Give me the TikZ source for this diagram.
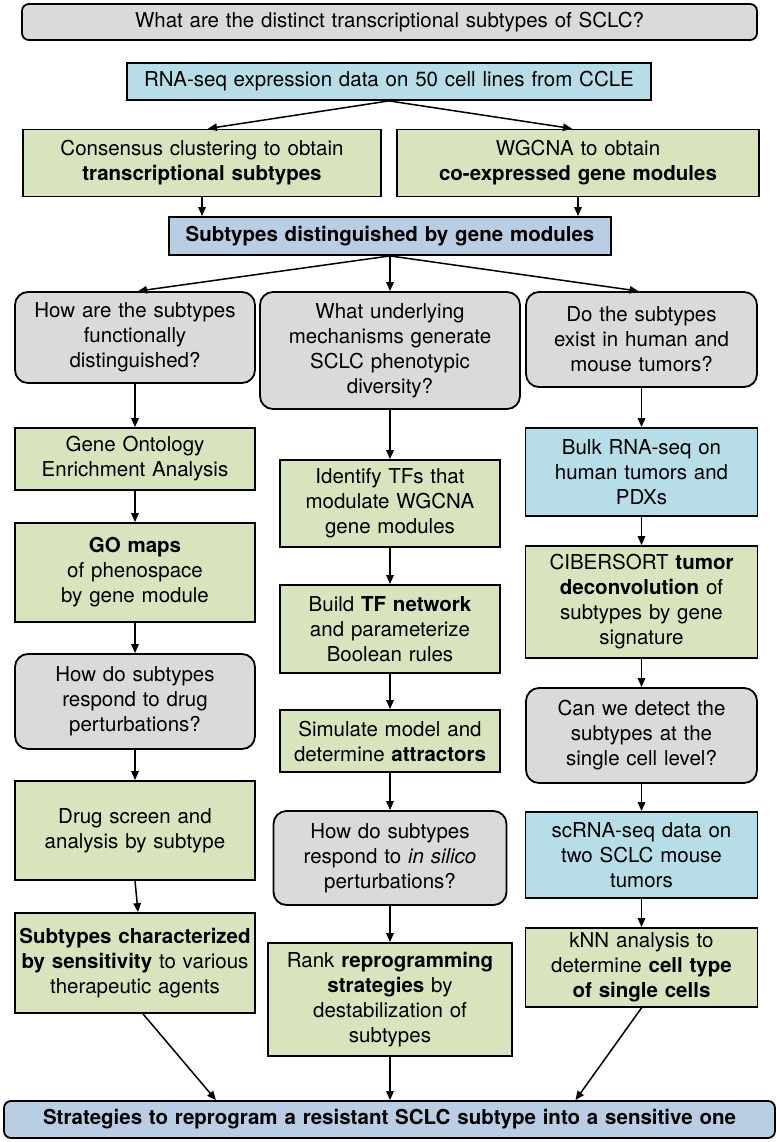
\documentclass[tikz,border=0pt]{standalone}
\usepackage{fontspec}
\setmainfont{TeX Gyre Heros}
\usetikzlibrary{arrows.meta}
\definecolor{qgray}{RGB}{218,218,218}
\definecolor{pgreen}{RGB}{215,228,189}
\definecolor{dblue}{RGB}{183,221,232}
\definecolor{sblue}{RGB}{185,205,229}
\begin{document}
\begin{tikzpicture}[x=1pt,y=-1pt,
  base/.style={draw=black, line width=1.8pt, inner sep=0pt, align=center,
    font=\fontsize{20.5}{25}\selectfont},
  wh/.style 2 args={text width=#1, minimum height=#2},
  qbox/.style={base, fill=qgray, rounded corners=13pt},
  gbox/.style={base, fill=pgreen},
  dbox/.style={base, fill=dblue},
  sbox/.style={base, fill=sblue},
  arr/.style={line width=1.5pt, -{Triangle[length=9pt,width=7.5pt]}},
]
\fill[white] (0,0) rectangle (779,1142);
\useasboundingbox (0,0) rectangle (779,1142);

% top
\node[qbox, rounded corners=7pt, wh={735pt}{36pt}] (title) at (389.5,22) {What are the distinct transcriptional subtypes of SCLC?};
\node[dbox, wh={524pt}{37pt}] (rna) at (389,81.5) {RNA-seq expression data on 50 cell lines from CCLE};
\node[gbox, wh={358pt}{67pt}] (cons) at (202,163) {Consensus clustering to obtain\\\textbf{transcriptional subtypes}};
\node[gbox, wh={362pt}{67pt}] (wgcna) at (578,163) {WGCNA to obtain\\\textbf{co-expressed gene modules}};
\node[sbox, wh={442pt}{38pt}] (subt) at (390,236) {\textbf{Subtypes distinguished by gene modules}};

% left column
\node[qbox, wh={240pt}{91pt}] (q1) at (135,337.5) {How are the subtypes\\functionally\\distinguished?};
\node[gbox, wh={240pt}{62pt}] (go1) at (135,459) {Gene Ontology\\Enrichment Analysis};
\node[gbox, wh={240pt}{99pt}] (go2) at (135,572.5) {\textbf{GO maps}\\of phenospace\\by gene module};
\node[qbox, wh={240pt}{95pt}] (q4) at (135,701.5) {How do subtypes\\respond to drug\\perturbations?};
\node[gbox, wh={240pt}{99pt}] (drug) at (135,830.5) {Drug screen and\\analysis by subtype};
\node[gbox, wh={240pt}{100pt}] (char) at (135,963) {\textbf{Subtypes characterized}\\\textbf{by sensitivity} to various\\therapeutic agents};

% middle column
\node[qbox, wh={260pt}{117pt}] (q2) at (390,350.5) {What underlying\\mechanisms generate\\SCLC phenotypic\\diversity?};
\node[gbox, wh={220pt}{87pt}] (tfs) at (390,503.5) {Identify TFs that\\modulate WGCNA\\gene modules};
\node[gbox, wh={220pt}{88pt}] (build) at (390,629) {Build \textbf{TF network}\\and parameterize\\Boolean rules};
\node[gbox, wh={220pt}{62pt}] (sim) at (390,741) {Simulate model and\\determine \textbf{attractors}};
\node[qbox, wh={233pt}{94pt}] (q5) at (390,858) {How do subtypes\\respond to \textit{in silico}\\perturbations?};
\node[gbox, wh={244pt}{113pt}] (rank) at (390,999.5) {Rank \textbf{reprogramming}\\\textbf{strategies} by\\destabilization of\\subtypes};

% right column
\node[qbox, wh={231pt}{95pt}] (q3) at (641.5,339.5) {Do the subtypes\\exist in human and\\mouse tumors?};
\node[dbox, wh={232pt}{88pt}] (bulk) at (641.5,472) {Bulk RNA-seq on\\human tumors and\\PDXs};
\node[gbox, wh={232pt}{112pt}] (cib) at (641.5,602) {CIBERSORT \textbf{tumor}\\\textbf{deconvolution} of\\subtypes by gene\\signature};
\node[qbox, wh={231pt}{95pt}] (q6) at (641.5,735.5) {Can we detect the\\subtypes at the\\single cell level?};
\node[dbox, wh={232pt}{86pt}] (sc) at (641.5,855) {scRNA-seq data on\\two SCLC mouse\\tumors};
\node[gbox, wh={232pt}{79pt}] (knn) at (641.5,967.5) {kNN analysis to\\determine \textbf{cell type}\\\textbf{of single cells}};

% bottom
\node[sbox, rounded corners=7pt, wh={771pt}{37pt}] (final) at (389.5,1119.5) {\textbf{Strategies to reprogram a resistant SCLC subtype into a sensitive one}};

% connectors
\draw[arr] (rna.south) -- ([xshift=6pt]cons.north);
\draw[arr] (rna.south) -- ([xshift=-6pt]wgcna.north);
\draw[arr] (cons.south) -- (cons.south |- subt.north);
\draw[arr] (wgcna.south) -- (wgcna.south |- subt.north);
\draw[arr] (subt.south) -- ([xshift=3pt]q1.north);
\draw[arr] (subt.south) -- (q2.north);
\draw[arr] (subt.south) -- ([xshift=-3pt]q3.north);

\draw[arr] (q1) -- (go1);
\draw[arr] (go1) -- (go2);
\draw[arr] (go2) -- (q4);
\draw[arr] (q4) -- (drug);
\draw[arr] (drug.south) -- ([xshift=3pt]char.north);
\draw[arr] ([xshift=8pt]char.south) -- ([xshift=-173.5pt]final.north);

\draw[arr] (q2) -- (tfs);
\draw[arr] (tfs) -- (build);
\draw[arr] (build) -- (sim);
\draw[arr] (sim) -- (q5);
\draw[arr] (q5) -- (rank);
\draw[arr] (rank.south) -- (rank.south |- final.north);

\draw[arr] (q3) -- (bulk);
\draw[arr] (bulk) -- (cib);
\draw[arr] (cib) -- (q6);
\draw[arr] (q6) -- (sc);
\draw[arr] (sc) -- (knn);
\draw[arr] (knn.south) -- ([xshift=186pt]final.north);
\end{tikzpicture}
\end{document}
